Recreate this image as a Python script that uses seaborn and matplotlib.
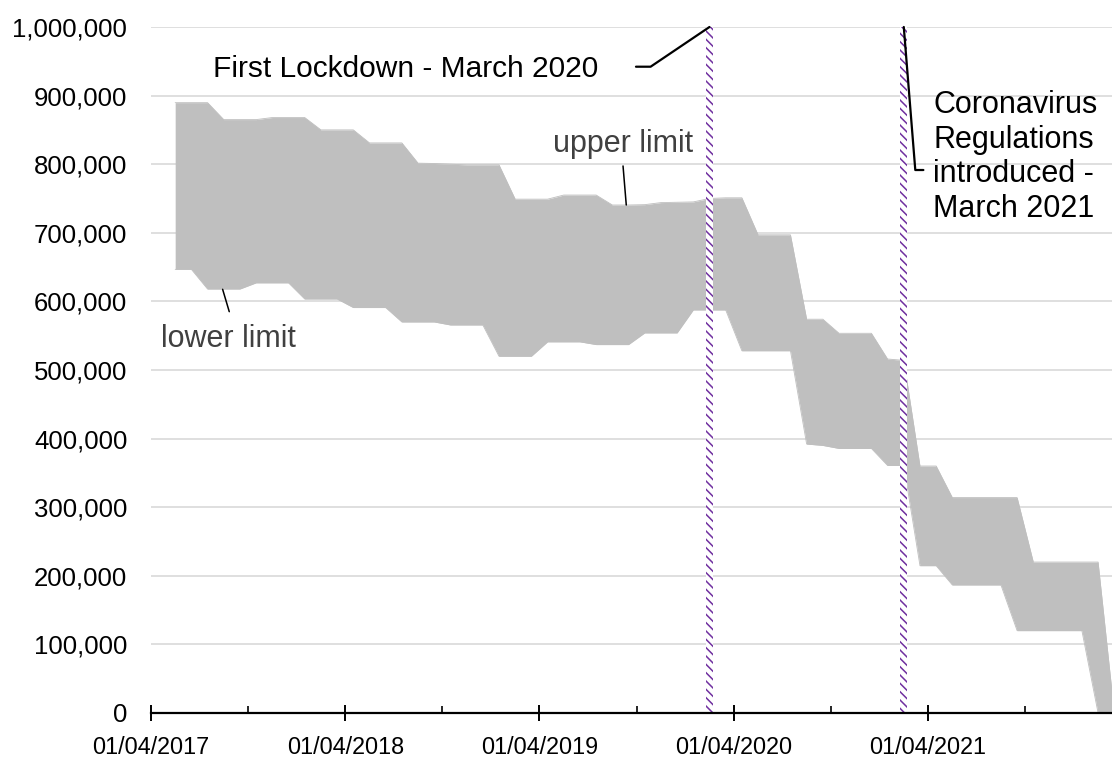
import numpy as np
import pandas as pd
import matplotlib
matplotlib.use("Agg")
import matplotlib.pyplot as plt
import seaborn as sns
from matplotlib.ticker import FuncFormatter, FixedLocator

# ---------------- data ----------------
months = pd.period_range("2017-05", "2022-03", freq="M").strftime("%Y-%m").tolist()

lower_limit = [646700, 646700, 618000, 618000, 618000, 627000, 627000, 627000,
               603500, 603500, 603500, 591000, 591000, 591000, 570000, 570000,
               570000, 565600, 565600, 565600, 520000, 520000, 520000, 541000,
               541000, 541000, 537000, 537000, 537000, 554000, 554000, 554000,
               587500, 587500, 587500, 528000, 528000, 528000, 528000, 392000,
               390000, 385600, 385600, 385600, 360800, 360800, 214700, 214700,
               186600, 186600, 186600, 186600, 120000, 120000, 120000, 120000,
               120000, 0, 0]

upper_limit = [889700, 889700, 889700, 865000, 865000, 865000, 868000, 868000,
               868000, 850000, 850000, 850000, 831000, 831000, 831000, 801500,
               801000, 800000, 799000, 799000, 799000, 749000, 749000, 749000,
               755000, 755000, 755000, 740500, 740500, 741000, 744000, 744500,
               745000, 750000, 751000, 751000, 697000, 697000, 697000, 574000,
               574000, 553500, 553500, 553500, 516000, 514000, 360000, 360000,
               314000, 314000, 314000, 314000, 314000, 220000, 220000, 220000,
               220000, 220000, 0]

tick_dates = ["2017-04", "2018-04", "2019-04", "2020-04", "2021-04"]
tick_labels = ["01/04/2017", "01/04/2018", "01/04/2019", "01/04/2020", "01/04/2021"]
minor_tick_dates = ["2017-10", "2018-10", "2019-10", "2020-10", "2021-10"]
y_ticks = [0, 100000, 200000, 300000, 400000, 500000, 600000, 700000, 800000, 900000, 1000000]

event_months = ["2020-02", "2021-02"]
event_labels = ["First Lockdown - March 2020",
                "Coronavirus\nRegulations\nintroduced -\nMarch 2021"]


def month_index(ym):
    y, m = map(int, ym.split("-"))
    return (y - 2017) * 12 + (m - 4)


def month_center(ym):
    return month_index(ym) + 0.5


df = pd.DataFrame({
    "pos": [month_center(m) for m in months],
    "lower": lower_limit,
    "upper": upper_limit,
})

# ---------------- style ----------------
sns.set_theme(style="white")
plt.rcParams["font.family"] = ["Liberation Sans", "DejaVu Sans"]
plt.rcParams["hatch.linewidth"] = 1.1

AREA = "#bfbfbf"
GRID = "#d9d9d9"
PURPLE = "#7030a0"

fig = plt.figure(figsize=(11.12, 7.58), dpi=100)
ax = fig.add_axes([0.1357, 0.0594, 0.8643, 0.905])

# series
sns.lineplot(data=df, x="pos", y="lower", ax=ax, color=AREA, linewidth=0.6, zorder=2)
sns.lineplot(data=df, x="pos", y="upper", ax=ax, color=AREA, linewidth=0.6, zorder=2)
ax.fill_between(df["pos"], df["lower"], df["upper"], color=AREA, linewidth=0, zorder=2)

ax.set_xlim(0, 59.36)
ax.set_ylim(0, 1000000)

# event bars (hatched)
for em in event_months:
    c = month_center(em)
    ax.axvspan(c - 0.225, c + 0.225, facecolor="white", edgecolor=PURPLE,
               hatch="\\\\\\\\", linewidth=0, zorder=3)

# axes styling
ax.set_xlabel("")
ax.set_ylabel("")
ax.yaxis.set_major_locator(FixedLocator(y_ticks))
ax.yaxis.set_major_formatter(FuncFormatter(lambda v, p: f"{v:,.0f}"))
ax.grid(axis="y", color=GRID, linewidth=1.2, zorder=0)
ax.grid(axis="x", visible=False)
ax.set_axisbelow(True)

ax.xaxis.set_major_locator(FixedLocator([month_index(d) for d in tick_dates]))
ax.set_xticklabels(tick_labels)
ax.xaxis.set_minor_locator(FixedLocator([month_index(d) for d in minor_tick_dates]))

for s in ["top", "right", "left"]:
    ax.spines[s].set_visible(False)
ax.spines["bottom"].set_color("black")
ax.spines["bottom"].set_linewidth(1.6)
ax.spines["bottom"].set_zorder(5)

ax.tick_params(axis="y", length=0, pad=17, labelsize=18.5, labelcolor="black")
ax.tick_params(axis="x", which="major", direction="inout", length=11, width=1.4,
               color="black", pad=11, labelsize=16.8, labelcolor="black", bottom=True)
ax.tick_params(axis="x", which="minor", direction="in", length=5, width=1.2,
               color="black", bottom=True)

# ---------------- annotations ----------------
ev1 = month_center(event_months[0])
ev2 = month_center(event_months[1])

ax.text(27.62, 927500, event_labels[0], ha="right", va="baseline",
        fontsize=21.5, color="black", zorder=6)
ax.annotate("", xy=(ev1, 1000000), xytext=(29.96, 942100),
            arrowprops=dict(arrowstyle="-", color="black", lw=1.6,
                            shrinkA=0, shrinkB=0,
                            connectionstyle="angle,angleA=0,angleB=34,rad=0"),
            annotation_clip=False, zorder=6)

ax.text(48.33, 908000, event_labels[1], ha="left", va="top",
        fontsize=22, color="black", zorder=6, linespacing=1.2)
ax.annotate("", xy=(ev2, 1000000), xytext=(47.71, 791500),
            arrowprops=dict(arrowstyle="-", color="black", lw=1.6,
                            shrinkA=0, shrinkB=0,
                            connectionstyle="angle,angleA=180,angleB=94.6,rad=0"),
            annotation_clip=False, zorder=6)

ax.text(29.16, 817800, "upper limit", ha="center", va="baseline",
        fontsize=22, color="#404040", zorder=6)
ax.annotate("", xy=(29.36, 740500), xytext=(29.16, 797400),
            arrowprops=dict(arrowstyle="-", color="black", lw=1.1,
                            shrinkA=0, shrinkB=0), zorder=6)

ax.text(4.81, 534000, "lower limit", ha="center", va="baseline",
        fontsize=22, color="#404040", zorder=6)
ax.annotate("", xy=(4.43, 617600), xytext=(4.84, 585000),
            arrowprops=dict(arrowstyle="-", color="black", lw=1.1,
                            shrinkA=0, shrinkB=0), zorder=6)

fig.savefig("out.png", dpi=100)
